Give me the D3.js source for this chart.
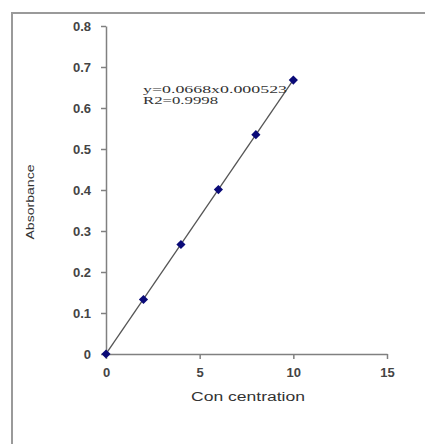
<!DOCTYPE html>
<html>
<head>
<meta charset="utf-8">
<script src="https://cdn.jsdelivr.net/npm/d3@7"></script>
<style>
  body { margin: 0; background: #fff; }
  svg { display: block; }
</style>
</head>
<body>
<div id="chart"></div>
<script>
// Data
const concentration = [0, 2, 4, 6, 8, 10];
const absorbance = [0, 0.133, 0.267, 0.401, 0.535, 0.668];
const xTicks = [0, 5, 10, 15];
const yTicks = [0, 0.1, 0.2, 0.3, 0.4, 0.5, 0.6, 0.7, 0.8];
const slope = 0.0668, intercept = 0.000523;
const eqText = ["y=0.0668x0.000523", "R2=0.9998"];

const W = 425, H = 444;
const margin = { top: 26, left: 106 };
const width = 281, height = 328;

const svg = d3.select("#chart").append("svg")
    .attr("width", W)
    .attr("height", H);

// outer frame (runs off the right and bottom edge)
svg.append("rect")
    .attr("x", 12).attr("y", 13)
    .attr("width", 440).attr("height", 450)
    .attr("fill", "none")
    .attr("stroke", "#9a9a9a")
    .attr("stroke-width", 2);

const g = svg.append("g")
    .attr("transform", `translate(${margin.left},${margin.top})`);

const x = d3.scaleLinear().domain([0, 15]).range([0, width]);
const y = d3.scaleLinear().domain([0, 0.8]).range([height, 0]);

// X axis
const xAxis = g.append("g")
    .attr("transform", `translate(0,${height})`)
    .call(d3.axisBottom(x).tickValues(xTicks).tickSize(5).tickSizeOuter(0).tickPadding(6));

// Y axis
const yAxis = g.append("g")
    .call(d3.axisLeft(y).tickValues(yTicks).tickSize(5).tickSizeOuter(0).tickPadding(10)
        .tickFormat(d => d === 0 ? "0" : d3.format(".1f")(d)));

[xAxis, yAxis].forEach(a => {
    a.select(".domain").attr("stroke", "#808080").attr("stroke-width", 1.5);
    a.selectAll(".tick line").attr("stroke", "#808080").attr("stroke-width", 1.5);
    a.selectAll(".tick text")
        .attr("fill", "#444")
        .style("font-family", "Liberation Sans, Arial, sans-serif")
        .style("font-size", "13px")
        .style("font-weight", "bold");
});
xAxis.selectAll(".tick text").attr("dy", "0.9em");

// trend line
const x0 = d3.min(concentration), x1 = d3.max(concentration);
g.append("line")
    .attr("x1", x(x0)).attr("y1", y(slope * x0 + intercept))
    .attr("x2", x(x1)).attr("y2", y(slope * x1 + intercept))
    .attr("stroke", "#555")
    .attr("stroke-width", 1.3);

// markers (diamonds)
g.selectAll(".pt")
    .data(concentration)
    .join("path")
    .attr("class", "pt")
    .attr("d", d3.symbol(d3.symbolSquare, 42))
    .attr("transform", (d, i) => `translate(${x(d)},${y(absorbance[i])}) rotate(45)`)
    .attr("fill", "#0a0a78");

// equation label
g.selectAll(".eq")
    .data(eqText)
    .join("text")
    .attr("class", "eq")
    .attr("x", 143 - margin.left)
    .attr("y", (d, i) => 93 - margin.top + i * 11)
    .attr("textLength", (d, i) => i === 0 ? 144 : 75)
    .attr("lengthAdjust", "spacingAndGlyphs")
    .attr("fill", "#333")
    .style("font-family", "Liberation Serif, Times New Roman, serif")
    .style("font-size", "10px")
    .text(d => d);

// axis titles
svg.append("text")
    .attr("x", 248).attr("y", 401)
    .attr("text-anchor", "middle")
    .attr("textLength", 114)
    .attr("lengthAdjust", "spacingAndGlyphs")
    .attr("fill", "#333")
    .style("font-family", "Liberation Sans, Arial, sans-serif")
    .style("font-size", "12px")
    .text("Con centration");

svg.append("text")
    .attr("transform", "translate(34,202) rotate(-90)")
    .attr("text-anchor", "middle")
    .attr("textLength", 75)
    .attr("lengthAdjust", "spacingAndGlyphs")
    .attr("fill", "#333")
    .style("font-family", "Liberation Sans, Arial, sans-serif")
    .style("font-size", "10px")
    .text("Absorbance");
</script>
</body>
</html>
